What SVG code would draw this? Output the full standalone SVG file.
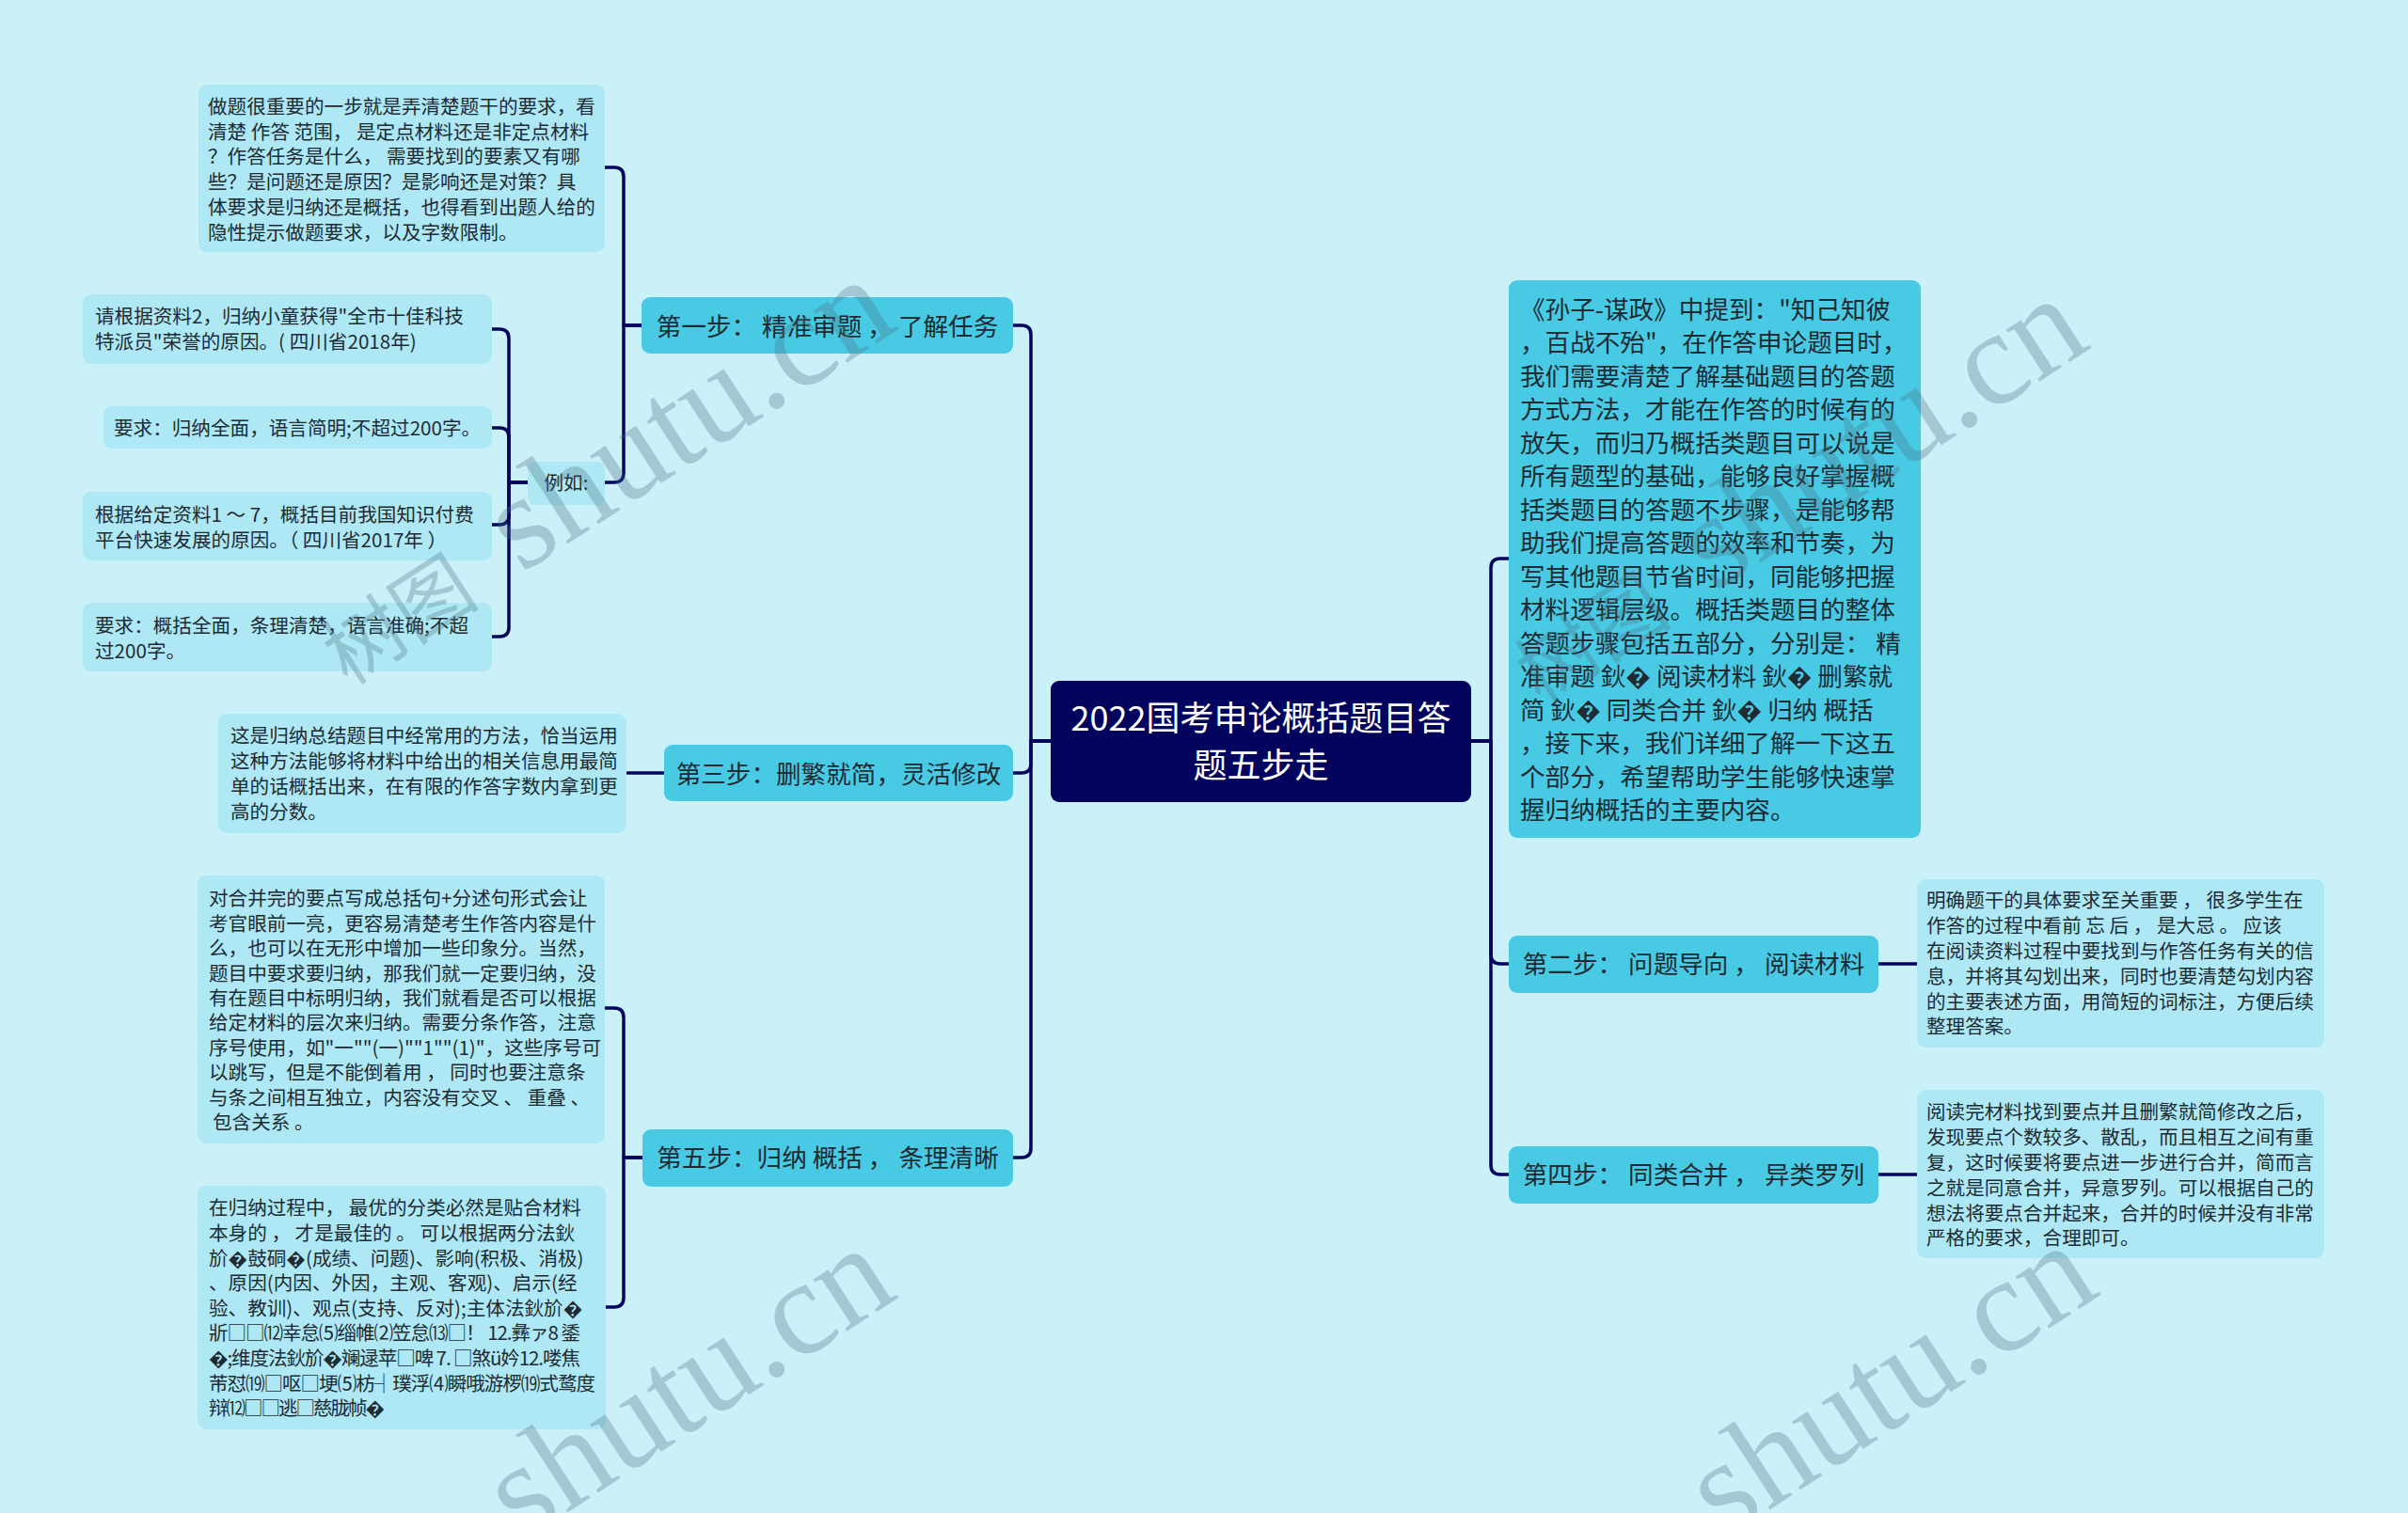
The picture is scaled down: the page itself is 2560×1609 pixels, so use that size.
<svg xmlns="http://www.w3.org/2000/svg" width="2560" height="1609" viewBox="0 0 2560 1609">
<style>
.bg{fill:#caf0f8}
.root{fill:#03045e}
.step{fill:#48cae4}
.leaf{fill:#ade8f4}
text{font-family:"Noto Sans CJK SC","Noto Sans",sans-serif;fill:#1e2b33}
.rt{fill:#ffffff;font-size:36px;text-anchor:middle}
.st{font-size:26.6px;text-anchor:middle}
.lt{font-size:20.6px}
.it{font-size:26.6px}
.conn{fill:none;stroke:#03045e;stroke-width:3.5;stroke-linecap:round;stroke-linejoin:round}
.wm{font-family:"Liberation Serif","Noto Sans CJK SC",serif;fill:#4a6f80;opacity:0.3}
</style>
<rect class="bg" x="0" y="0" width="2560" height="1609"/>

<g id="connectors">
<path class="conn" d="M1117 788 H1096 V356 Q1096 346 1086 346 H1077"/>
<path class="conn" d="M1117 788 H1096 V812 Q1096 822 1086 822 H1077"/>
<path class="conn" d="M1117 788 H1096 V1221 Q1096 1231 1086 1231 H1077"/>
<path class="conn" d="M682 346 H663 V188 Q663 178 653 178 H643"/>
<path class="conn" d="M682 346 H663 V503 Q663 513 653 513 H643"/>
<path class="conn" d="M561 513 H541 V360 Q541 350 531 350 H523"/>
<path class="conn" d="M561 513 H541 V465 Q541 455 531 455 H523"/>
<path class="conn" d="M561 513 H541 V548 Q541 558 531 558 H523"/>
<path class="conn" d="M561 513 H541 V667 Q541 677 531 677 H523"/>
<path class="conn" d="M706 822 H667"/>
<path class="conn" d="M683 1231 H663 V1082 Q663 1072 653 1072 H643"/>
<path class="conn" d="M683 1231 H663 V1380 Q663 1390 653 1390 H644"/>
<path class="conn" d="M1564 788 H1585 V604 Q1585 594 1595 594 H1604"/>
<path class="conn" d="M1564 788 H1585 V1015 Q1585 1025 1595 1025 H1604"/>
<path class="conn" d="M1564 788 H1585 V1239 Q1585 1249 1595 1249 H1604"/>
<path class="conn" d="M1997 1025 H2038"/>
<path class="conn" d="M1997 1249 H2038"/>
</g>

<g id="root">
<rect class="root" x="1117" y="724" width="447" height="129" rx="9"/>
<text class="rt" x="1340.5" y="777">2022国考申论概括题目答</text>
<text class="rt" x="1340.5" y="827">题五步走</text>
</g>

<g id="step1">
<rect class="step" x="682" y="316" width="395" height="60" rx="9"/>
<text class="st" x="879.5" y="356.5">第一步： 精准审题 ， 了解任务</text>
</g>

<g id="step1-desc">
<rect class="leaf" x="211" y="90" width="432" height="178" rx="9"/>
<text class="lt" x="221" y="121">
<tspan x="221">做题很重要的一步就是弄清楚题干的要求，看</tspan>
<tspan x="221" dy="26.7">清楚 作答 范围， 是定点材料还是非定点材料</tspan>
<tspan x="221" dy="26.7">？作答任务是什么， 需要找到的要素又有哪</tspan>
<tspan x="221" dy="26.7">些？是问题还是原因？是影响还是对策？具</tspan>
<tspan x="221" dy="26.7">体要求是归纳还是概括，也得看到出题人给的</tspan>
<tspan x="221" dy="26.7">隐性提示做题要求，以及字数限制。</tspan>
</text>
</g>

<g id="example">
<rect class="leaf" x="561" y="491" width="82" height="46" rx="8"/>
<text class="lt" x="602" y="521.4" text-anchor="middle">例如:</text>
</g>

<g id="example-1">
<rect class="leaf" x="88" y="313" width="435" height="74" rx="9"/>
<text class="lt" x="101" y="344.4">
<tspan x="101">请根据资料2，归纳小童获得"全市十佳科技</tspan>
<tspan x="101" dy="26.7">特派员"荣誉的原因。( 四川省2018年)</tspan>
</text>
</g>

<g id="example-2">
<rect class="leaf" x="110" y="432" width="413" height="45" rx="9"/>
<text class="lt" x="121" y="463.4">要求：归纳全面，语言简明;不超过200字。</text>
</g>

<g id="example-3">
<rect class="leaf" x="88" y="523" width="435" height="73" rx="9"/>
<text class="lt" x="101" y="555.4">
<tspan x="101">根据给定资料1 ～ 7，概括目前我国知识付费</tspan>
<tspan x="101" dy="26.7">平台快速发展的原因。（ 四川省2017年 ）</tspan>
</text>
</g>

<g id="example-4">
<rect class="leaf" x="88" y="641" width="435" height="73" rx="9"/>
<text class="lt" x="101" y="673.4">
<tspan x="101">要求：概括全面，条理清楚，语言准确;不超</tspan>
<tspan x="101" dy="26.7">过200字。</tspan>
</text>
</g>

<g id="step3">
<rect class="step" x="706" y="792" width="371" height="60" rx="9"/>
<text class="st" x="891.5" y="832.6">第三步：删繁就简，灵活修改</text>
</g>

<g id="step3-desc">
<rect class="leaf" x="232" y="759" width="434" height="127" rx="9"/>
<text class="lt" x="245" y="790.4">
<tspan x="245">这是归纳总结题目中经常用的方法，恰当运用</tspan>
<tspan x="245" dy="26.7">这种方法能够将材料中给出的相关信息用最简</tspan>
<tspan x="245" dy="26.7">单的话概括出来，在有限的作答字数内拿到更</tspan>
<tspan x="245" dy="26.7">高的分数。</tspan>
</text>
</g>

<g id="step5">
<rect class="step" x="683" y="1201" width="394" height="61" rx="9"/>
<text class="st" x="880" y="1240.6">第五步：归纳 概括 ， 条理清晰</text>
</g>

<g id="step5-desc-1">
<rect class="leaf" x="210" y="931" width="433" height="285" rx="9"/>
<text class="lt" x="222" y="963.4">
<tspan x="222">对合并完的要点写成总括句+分述句形式会让</tspan>
<tspan x="222" dy="26.4">考官眼前一亮，更容易清楚考生作答内容是什</tspan>
<tspan x="222" dy="26.4">么，也可以在无形中增加一些印象分。当然，</tspan>
<tspan x="222" dy="26.4">题目中要求要归纳，那我们就一定要归纳，没</tspan>
<tspan x="222" dy="26.4">有在题目中标明归纳，我们就看是否可以根据</tspan>
<tspan x="222" dy="26.4">给定材料的层次来归纳。需要分条作答，注意</tspan>
<tspan x="222" dy="26.4">序号使用，如"一""(一)""1""(1)"，这些序号可</tspan>
<tspan x="222" dy="26.4">以跳写，但是不能倒着用 ， 同时也要注意条</tspan>
<tspan x="222" dy="26.4">与条之间相互独立，内容没有交叉 、 重叠 、</tspan>
<tspan x="226" dy="26.4">包含关系 。</tspan>
</text>
</g>

<g id="step5-desc-2">
<rect class="leaf" x="210" y="1261" width="434" height="259" rx="9"/>
<text class="lt" x="222" y="1292.4">
<tspan x="222">在归纳过程中， 最优的分类必然是贴合材料</tspan>
<tspan x="222" dy="26.6">本身的 ， 才是最佳的 。 可以根据两分法鈥</tspan>
<tspan x="222" dy="26.6">斺�鼓硐�(成绩、问题)、影响(积极、消极)</tspan>
<tspan x="222" dy="26.6">、原因(内因、外因，主观、客观)、启示(经</tspan>
<tspan x="222" dy="26.6">验、教训)、观点(支持、反对);主体法鈥斺�</tspan>
</text>
<text class="lt" x="222" y="1425.4" textLength="395" lengthAdjust="spacing">斨□□⑿幸怠⑸缁帷⑵笠怠⒀□！ 12.彝ァ8 鋈</text>
<text class="lt" x="222" y="1452" textLength="395" lengthAdjust="spacing">�;维度法鈥斺�斓逯苹□啤 7. □煞ü妗12.喽焦</text>
<text class="lt" x="222" y="1478.6" textLength="411" lengthAdjust="spacing">芾怼⒆□呕□埂⑸枋┤璞浮⑷瞬哦游椤⒆式鹜度</text>
<text class="lt" x="222" y="1505.2" textLength="187" lengthAdjust="spacing">辩⑿□□逃□慈胧帧�</text>
</g>

<g id="intro">
<rect class="step" x="1604" y="298" width="438" height="593" rx="9"/>
<text class="it" x="1616" y="338.6">
<tspan x="1616">《孙子-谋政》中提到："知己知彼</tspan>
<tspan x="1616" dy="35.5">，百战不殆"，在作答申论题目时，</tspan>
<tspan x="1616" dy="35.5">我们需要清楚了解基础题目的答题</tspan>
<tspan x="1616" dy="35.5">方式方法，才能在作答的时候有的</tspan>
<tspan x="1616" dy="35.5">放矢，而归乃概括类题目可以说是</tspan>
<tspan x="1616" dy="35.5">所有题型的基础，能够良好掌握概</tspan>
<tspan x="1616" dy="35.5">括类题目的答题不步骤，是能够帮</tspan>
<tspan x="1616" dy="35.5">助我们提高答题的效率和节奏，为</tspan>
<tspan x="1616" dy="35.5">写其他题目节省时间，同能够把握</tspan>
<tspan x="1616" dy="35.5">材料逻辑层级。概括类题目的整体</tspan>
<tspan x="1616" dy="35.5">答题步骤包括五部分，分别是： 精</tspan>
<tspan x="1616" dy="35.5">准审题 鈥� 阅读材料 鈥� 删繁就</tspan>
<tspan x="1616" dy="35.5">简 鈥� 同类合并 鈥� 归纳 概括</tspan>
<tspan x="1616" dy="35.5">，接下来，我们详细了解一下这五</tspan>
<tspan x="1616" dy="35.5">个部分，希望帮助学生能够快速掌</tspan>
<tspan x="1616" dy="35.5">握归纳概括的主要内容。</tspan>
</text>
</g>

<g id="step2">
<rect class="step" x="1604" y="995" width="393" height="61" rx="9"/>
<text class="st" x="1800.5" y="1034.6">第二步： 问题导向 ， 阅读材料</text>
</g>

<g id="step2-desc">
<rect class="leaf" x="2038" y="935" width="433" height="179" rx="9"/>
<text class="lt" x="2048" y="965.4">
<tspan x="2048">明确题干的具体要求至关重要 ， 很多学生在</tspan>
<tspan x="2048" dy="26.8">作答的过程中看前 忘 后 ， 是大忌 。 应该</tspan>
<tspan x="2048" dy="26.8">在阅读资料过程中要找到与作答任务有关的信</tspan>
<tspan x="2048" dy="26.8">息，并将其勾划出来，同时也要清楚勾划内容</tspan>
<tspan x="2048" dy="26.8">的主要表述方面，用简短的词标注，方便后续</tspan>
<tspan x="2048" dy="26.8">整理答案。</tspan>
</text>
</g>

<g id="step4">
<rect class="step" x="1604" y="1219" width="393" height="61" rx="9"/>
<text class="st" x="1800.5" y="1258.6">第四步： 同类合并 ， 异类罗列</text>
</g>

<g id="step4-desc">
<rect class="leaf" x="2038" y="1159" width="433" height="179" rx="9"/>
<text class="lt" x="2048" y="1190.4">
<tspan x="2048">阅读完材料找到要点并且删繁就简修改之后，</tspan>
<tspan x="2048" dy="26.8">发现要点个数较多、散乱，而且相互之间有重</tspan>
<tspan x="2048" dy="26.8">复，这时候要将要点进一步进行合并，简而言</tspan>
<tspan x="2048" dy="26.8">之就是同意合并，异意罗列。可以根据自己的</tspan>
<tspan x="2048" dy="26.8">想法将要点合并起来，合并的时候并没有非常</tspan>
<tspan x="2048" dy="26.8">严格的要求，合理即可。</tspan>
</text>
</g>

<g id="watermarks">
<text class="wm" transform="translate(370 730) rotate(-33)"><tspan font-size="84">树图</tspan><tspan font-size="143" dx="16"> shutu.cn</tspan></text>
<text class="wm" transform="translate(1638 750) rotate(-33)"><tspan font-size="84">树图</tspan><tspan font-size="143" dx="16"> shutu.cn</tspan></text>
<text class="wm" transform="translate(370 1760) rotate(-33)"><tspan font-size="84">树图</tspan><tspan font-size="143" dx="16"> shutu.cn</tspan></text>
<text class="wm" transform="translate(1648 1757) rotate(-33)"><tspan font-size="84">树图</tspan><tspan font-size="143" dx="16"> shutu.cn</tspan></text>
</g>
</svg>
